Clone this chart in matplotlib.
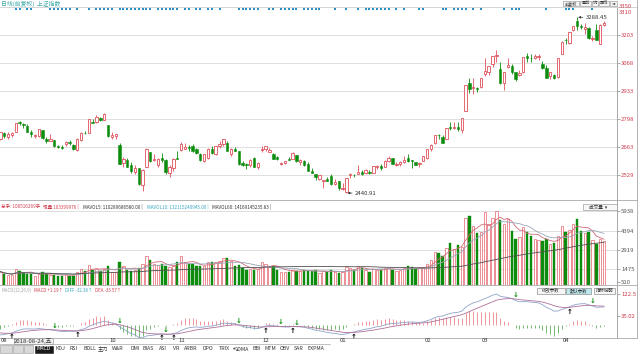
import numpy as np
import pandas as pd
import matplotlib
matplotlib.use('Agg')
import matplotlib.pyplot as plt

plt.rcParams['font.family'] = ['Noto Sans CJK SC', 'DejaVu Sans']

# ---------------- data ----------------
trading_days = {
    '2018-08': [21, 22, 23, 24, 27, 28, 29, 30, 31],
    '2018-09': [3, 4, 5, 6, 7, 10, 11, 12, 13, 14, 17, 18, 19, 20, 21, 25, 26, 27, 28],
    '2018-10': [8, 9, 10, 11, 12, 15, 16, 17, 18, 19, 22, 23, 24, 25, 26, 29, 30, 31],
    '2018-11': [1, 2, 5, 6, 7, 8, 9, 12, 13, 14, 15, 16, 19, 20, 21, 22, 23, 26, 27, 28, 29, 30],
    '2018-12': [3, 4, 5, 6, 7, 10, 11, 12, 13, 14, 17, 18, 19, 20, 21, 24, 25, 26, 27, 28],
    '2019-01': [2, 3, 4, 7, 8, 9, 10, 11, 14, 15, 16, 17, 18, 21, 22, 23, 24, 25, 28, 29, 30, 31],
    '2019-02': [1, 11, 12, 13, 14, 15, 18, 19, 20, 21, 22, 25, 26, 27, 28],
    '2019-03': [1, 4, 5, 6, 7, 8, 11, 12, 13, 14, 15, 18, 19, 20, 21, 22, 25, 26, 27, 28, 29],
    '2019-04': [1, 2, 3, 4, 8, 9, 10, 11, 12, 15, 16, 17],
}
month_tick_labels = ['08', '10', '11', '12', '01', '02', '03', '04']
month_tick_keys = ['2018-08', '2018-10', '2018-11', '2018-12', '2019-01', '2019-02', '2019-03', '2019-04']

opens = [2700, 2730, 2713, 2720, 2737, 2783, 2773, 2765, 2733,
         2716, 2717, 2746, 2703, 2694, 2695, 2667, 2665, 2676, 2688, 2674, 2649, 2696, 2732, 2731, 2782, 2783, 2803, 2793,
         2768, 2713, 2716, 2671, 2586, 2600, 2577, 2543, 2564, 2481, 2568, 2641, 2601, 2574, 2610, 2602, 2538, 2563,
         2608, 2649, 2654, 2664, 2670, 2651, 2631, 2596, 2612, 2654, 2628, 2668, 2677, 2684, 2627, 2652, 2642, 2584, 2581, 2576, 2611, 2568,
         2647, 2651, 2639, 2627, 2614, 2581, 2586, 2607, 2605, 2625, 2590, 2595, 2580, 2547, 2532, 2509, 2497, 2507, 2521, 2483,
         2497, 2461, 2446, 2529, 2530, 2535, 2544, 2540, 2544, 2536, 2569, 2571, 2565, 2597, 2609, 2576, 2583, 2591, 2608, 2598, 2591, 2580,
         2597, 2608, 2652, 2680, 2722, 2709, 2701, 2761, 2756, 2760, 2745, 2838, 2971, 2949, 2946,
         2954, 3015, 3026, 3062, 3103, 3038, 2972, 3049, 3052, 3025, 3010, 3025, 3101, 3091, 3093, 3096, 3065, 3042, 3004, 3012, 3002,
         3109, 3177, 3166, 3229, 3271, 3246, 3232, 3236, 3182, 3228, 3162, 3251]
highs = [2736, 2737, 2737, 2737, 2781, 2789, 2780, 2772, 2743,
         2726, 2752, 2747, 2713, 2725, 2698, 2675, 2673, 2692, 2695, 2676, 2706, 2737, 2738, 2798, 2799, 2818, 2807, 2827,
         2771, 2733, 2726, 2684, 2615, 2611, 2591, 2574, 2564, 2558, 2659, 2641, 2630, 2608, 2632, 2605, 2575, 2608,
         2645, 2686, 2680, 2673, 2679, 2657, 2634, 2631, 2656, 2667, 2670, 2690, 2704, 2690, 2656, 2661, 2643, 2594, 2586, 2603, 2616, 2589,
         2667, 2667, 2657, 2634, 2620, 2592, 2597, 2613, 2638, 2625, 2605, 2598, 2593, 2563, 2533, 2530, 2502, 2517, 2531, 2510,
         2500, 2488, 2515, 2536, 2532, 2574, 2552, 2556, 2550, 2573, 2575, 2583, 2598, 2618, 2609, 2590, 2596, 2618, 2630, 2602, 2593, 2590,
         2618, 2654, 2678, 2722, 2726, 2723, 2754, 2782, 2783, 2783, 2805, 2961, 2997, 2997, 2952,
         2998, 3090, 3055, 3103, 3129, 3075, 3027, 3091, 3061, 3027, 3036, 3096, 3117, 3111, 3111, 3111, 3079, 3058, 3026, 3016, 3093,
         3176, 3189, 3216, 3247, 3288.45, 3256, 3261, 3241, 3198, 3254, 3254, 3270]
lows = [2696, 2707, 2703, 2713, 2737, 2770, 2757, 2735, 2712,
        2706, 2712, 2702, 2683, 2690, 2664, 2658, 2654, 2670, 2674, 2649, 2644, 2691, 2724, 2731, 2777, 2780, 2788, 2791,
        2710, 2703, 2703, 2583, 2568, 2566, 2540, 2535, 2482, 2449, 2568, 2590, 2596, 2568, 2590, 2531, 2518, 2549,
        2603, 2643, 2652, 2646, 2640, 2630, 2594, 2591, 2605, 2627, 2626, 2657, 2668, 2642, 2620, 2642, 2576, 2572, 2558, 2567, 2567, 2558,
        2640, 2645, 2637, 2603, 2600, 2578, 2581, 2599, 2605, 2591, 2578, 2570, 2549, 2536, 2505, 2502, 2463, 2498, 2482, 2482,
        2456, 2455, 2440.91, 2515, 2520, 2534, 2527, 2533, 2531, 2536, 2558, 2554, 2565, 2592, 2579, 2570, 2572, 2588, 2593, 2562, 2575, 2567,
        2594, 2603, 2645, 2676, 2702, 2680, 2701, 2744, 2752, 2741, 2730, 2838, 2925, 2919, 2926,
        2946, 3006, 3008, 3050, 3075, 2969, 2936, 3043, 3013, 2981, 3004, 3021, 3071, 3073, 3085, 3083, 3037, 2995, 2993, 2990, 2996,
        3109, 3159, 3162, 3220, 3226, 3230, 3210, 3182, 3173, 3177, 3159, 3244]
closes = [2733.85, 2714.61, 2724.62, 2729.43, 2780.90, 2777.98, 2769.30, 2737.74, 2725.25,
          2720.73, 2749.93, 2704.34, 2691.59, 2702.30, 2669.48, 2664.80, 2656.11, 2686.58, 2681.64, 2651.79, 2699.95,
          2730.85, 2729.24, 2797.48, 2781.14, 2806.81, 2791.77, 2821.35,
          2716.51, 2721.01, 2725.84, 2583.46, 2606.91, 2568.10, 2546.33, 2561.61, 2486.42, 2550.47, 2654.88, 2594.83,
          2603.30, 2603.80, 2598.85, 2542.10, 2568.05, 2602.78,
          2606.24, 2676.48, 2665.43, 2659.36, 2641.34, 2635.63, 2598.87, 2630.52, 2654.88, 2632.24, 2668.17, 2679.11,
          2703.51, 2645.43, 2651.51, 2645.85, 2579.48, 2575.81, 2574.68, 2601.74, 2567.44, 2588.19,
          2654.80, 2665.96, 2649.81, 2605.18, 2605.89, 2584.58, 2594.09, 2602.15, 2634.05, 2593.74, 2597.97, 2576.65,
          2549.56, 2536.27, 2516.25, 2527.01, 2504.82, 2498.29, 2483.09, 2493.90,
          2465.29, 2464.36, 2514.87, 2533.09, 2526.46, 2544.34, 2535.10, 2553.83, 2535.77, 2570.34, 2570.42, 2559.64,
          2596.01, 2610.51, 2579.70, 2581.00, 2591.69, 2601.72, 2596.98, 2594.25, 2575.58, 2584.57,
          2618.23, 2653.90, 2671.89, 2721.07, 2719.70, 2682.39, 2754.36, 2755.65, 2761.22, 2751.80, 2804.23, 2961.28,
          2941.52, 2953.82, 2940.95,
          2994.01, 3027.58, 3054.25, 3102.10, 3106.42, 2969.86, 3026.99, 3060.31, 3026.95, 2990.69, 3021.75, 3096.42,
          3090.64, 3090.98, 3101.46, 3104.15, 3043.03, 2997.10, 3022.72, 2994.94, 3090.76,
          3170.36, 3176.82, 3216.30, 3246.57, 3244.81, 3239.66, 3241.93, 3189.96, 3188.63, 3177.79, 3253.60, 3263.12]
volumes = [1300, 1100, 1050, 1005, 1500, 1350, 1200, 1150, 1100,
           1000, 1150, 1250, 1100, 1050, 1050, 1000, 1000, 1150, 1000, 950, 1300, 1500, 1350, 1800, 1450, 1500, 1350, 1500,
           1700, 1300, 1250, 2000, 1700, 1400, 1350, 1400, 1600, 1850, 2500, 2200, 1900, 1800, 1900, 1700, 1650, 1700,
           2000, 2500, 2050, 1900, 1850, 1750, 1700, 1700, 2050, 2000, 2050, 2100, 2300, 2300, 2100, 1750, 1800, 1550, 1450, 1500, 1400, 1500,
           2000, 1900, 1650, 1700, 1400, 1300, 1300, 1300, 1450, 1350, 1350, 1400, 1350, 1350, 1400, 1200, 1350, 1250, 1400, 1300,
           1200, 1250, 1650, 1600, 1450, 1750, 1550, 1400, 1300, 1500, 1450, 1450, 1550, 1600, 1450, 1350, 1450, 1550, 1700, 1650, 1500, 1600,
           1600, 1900, 2200, 2800, 2700, 2450, 3100, 3500, 3000, 3300, 3200, 5400, 5500, 4800, 4200,
           4300, 5800, 4900, 5400, 5900, 5200, 4900, 5300, 4400, 3800, 3900, 4700, 4300, 4000, 3800, 3700, 3600, 3800, 3400, 3500, 4000,
           4800, 4300, 4500, 4900, 5300, 4400, 4200, 4300, 3700, 3400, 3800, 3600]
# days carrying an information marker (blue dot) in the top strip
marker_days = [4, 5, 7, 8, 13, 14, 15, 16, 17, 18, 20, 23, 25, 26, 27, 28, 29, 31, 32, 33, 34, 35, 36, 37, 38, 39,
               41, 42, 43, 44, 45, 46, 48, 49, 51, 52, 54, 55, 57, 62, 63, 64, 65, 66, 67, 70, 71, 73, 74, 75, 76, 77,
               79, 80, 81, 82, 83, 87, 90, 93, 95, 96, 97, 98, 99, 100, 101, 103, 105, 109, 110, 115, 116, 118, 119,
               120, 121, 123, 125, 131, 133, 134, 135, 142, 147, 148, 149, 154]
price_ticks = [3203, 3068, 2933, 2798, 2663, 2529]
price_top_labels = ['3350', '3310']
vol_ticks = [5938, 4394, 2919, 1475, 510]
macd_ticks = [122.5, 35.02]
# texts of the status rows (values at the cursor day, as printed)
vol_legend = [('总手: 100516269手', '#d03c4c'), ('现量 103399976 |', '#d03c4c'),
              ('MAVOL5: 110289686580.00 |', '#333333'), ('MAVOL10: 132115240945.00 |', '#3aa6c0'),
              ('MAVOL60: 14169145235.83 |', '#333333')]
macd_legend = [('MACD(12,26,9)', '#a8a8a8'), ('MACD +1.19↑', '#d03c4c'), ('DIFF -32.38↑', '#3aa6c0'),
               ('DEA -33.57↑', '#d03c4c')]
cursor_label = '2018-08-24,五'
# MACD state on the day before the first visible day
ema12_start, ema26_start, dea_start = 2727.0, 2771.0, -30.2
tabs = ['MACD', 'KDJ', 'RSI', 'BOLL', '主力', 'W&R', 'DMI', 'BIAS', 'ASI', 'VR', 'ARBR', 'DPO', 'TRIX',
        '均DMA', 'BBI', 'MTM', 'OBV', 'SAR', 'EXPMA']

# ---------------- derived ----------------
dates = [f'{k}-{d:02d}' for k, v in trading_days.items() for d in v]
n = len(closes)
idx = np.arange(n)
o = np.array(opens, float); h = np.array(highs, float); l = np.array(lows, float); c = np.array(closes, float)
v = np.array(volumes, float)
up = c >= o

vs = pd.Series(v)
mavol5 = vs.rolling(5, min_periods=1).mean()
mavol10 = vs.rolling(10, min_periods=1).mean()
mavol60 = vs.rolling(60, min_periods=1).mean()

e12, e26, dea = ema12_start, ema26_start, dea_start
diff_l, dea_l = [], []
for cc in c:
    e12 = e12 + 2 / 13 * (cc - e12)
    e26 = e26 + 2 / 27 * (cc - e26)
    d = e12 - e26
    dea = dea + 0.2 * (d - dea)
    diff_l.append(d); dea_l.append(dea)
diff = np.array(diff_l); dea_a = np.array(dea_l)
macd = 2 * (diff - dea_a)

# ---------------- figure ----------------
W, H = 640, 354
fig = plt.figure(figsize=(6.4, 3.54), dpi=100)
fig.patch.set_facecolor('white')
renderer = fig.canvas.get_renderer()

def rect(x0, y0, x1, y1):
    return [x0 / W, 1 - y1 / H, (x1 - x0) / W, (y1 - y0) / H]

XR = 617
x_left = -0.09
x_right = x_left + XR / 3.845
RED = '#e0505a'
UPC = '#e8707a'
GREEN = '#0c8c0c'
GRID = '#dedede'
LBL = '#d03c4c'
FS = 4.3

def style(ax):
    for s in ['top', 'left', 'bottom']:
        ax.spines[s].set_visible(False)
    ax.spines['right'].set_color('#9a9a9a')
    ax.spines['right'].set_linewidth(0.6)
    ax.set_xlim(x_left, x_right)
    ax.set_xticks([])
    ax.yaxis.tick_right()
    ax.tick_params(axis='y', length=2, width=0.5, pad=1, labelsize=FS, colors='#888888')
    ax.set_facecolor('white')

# main price panel
ax = fig.add_axes(rect(0, 7, XR, 200))
style(ax)
ymin, ymax = 2407.5, 3338
ax.set_ylim(ymin, ymax)
ax.set_yticks(price_ticks)
ax.set_yticklabels([str(t) for t in price_ticks])
for t in ax.get_yticklabels():
    t.set_color(LBL)
for t in price_ticks:
    ax.axhline(t, color=GRID, lw=0.7, zorder=0)
bw = 0.62
ax.vlines(idx[up], l[up], h[up], color=RED, lw=0.6, zorder=2)
ax.vlines(idx[~up], l[~up], h[~up], color=GREEN, lw=0.6, zorder=2)
body_lo = np.minimum(o, c)
body_h = np.maximum(np.abs(c - o), 1.2)
ax.bar(idx[up], body_h[up], bottom=body_lo[up], width=bw, facecolor='white', edgecolor=RED, lw=0.6, zorder=3)
ax.bar(idx[~up], body_h[~up], bottom=body_lo[~up], width=bw, facecolor=GREEN, edgecolor=GREEN, lw=0.4, zorder=3)
mk_y = ymax - 2.2 / 193 * (ymax - ymin)
ax.scatter(marker_days, [mk_y] * len(marker_days), s=2.4, color='#2b8ec4', marker='s', lw=0, zorder=4, clip_on=False)
imax = int(np.argmax(h)); imin = int(np.argmin(l))
for ii, val in [(imax, h[imax]), (imin, l[imin])]:
    ax.annotate(f'{val:.2f}', xy=(ii + 0.3, val), xytext=(ii + 2.2, val), fontsize=FS, color='#333333',
                va='center', ha='left', arrowprops=dict(arrowstyle='-|>', color='#333333', lw=0.5, mutation_scale=3,
                                                       shrinkA=0, shrinkB=0))

# volume panel
axv = fig.add_axes(rect(0, 200, XR, 285))
style(axv)
axv.set_ylim(510 - 3 * 76, 510 + 82 * 76)
axv.set_yticks(vol_ticks)
axv.set_yticklabels([str(t) for t in vol_ticks])
for t in axv.get_yticklabels():
    t.set_color('#555555')
for t in vol_ticks[:-1]:
    axv.axhline(t, color=GRID, lw=0.7, zorder=0)
axv.bar(idx[up], v[up], width=bw, facecolor='white', edgecolor=UPC, lw=0.55, zorder=2)
axv.bar(idx[~up], v[~up], width=bw, facecolor=GREEN, edgecolor=GREEN, lw=0.3, zorder=2)
axv.plot(idx, mavol5, color='#d06a78', lw=0.6, zorder=3)
axv.plot(idx, mavol10, color='#9aa6b8', lw=0.6, zorder=3)
axv.plot(idx, mavol60, color='#505050', lw=0.6, zorder=3)

# MACD panel
axm = fig.add_axes(rect(0, 285, XR, 338))
style(axm)
z0 = 324.8
unit = 3.98
axm.set_ylim(-(338 - z0) * unit, (z0 - 285) * unit)
axm.set_yticks(macd_ticks)
axm.set_yticklabels([str(t) for t in macd_ticks])
for t in axm.get_yticklabels():
    t.set_color(LBL)
pos = macd >= 0
axm.vlines(idx[pos], 0, macd[pos], color='#e87a80', lw=0.55)
axm.vlines(idx[~pos], 0, macd[~pos], color='#4aa84a', lw=0.55)
axm.plot(idx, diff, color='#8fa4c8', lw=0.6)
axm.plot(idx, dea_a, color='#b0709c', lw=0.6)
sgn = np.sign(diff - dea_a)
for i in range(1, n):
    if sgn[i] > 0 and sgn[i - 1] <= 0:
        axm.text(i, min(diff[i], dea_a[i]) - 5, '↑', color='black', fontsize=5, ha='center', va='top',
                 family='DejaVu Sans', fontweight='bold')
    elif sgn[i] < 0 and sgn[i - 1] >= 0:
        axm.text(i, max(diff[i], dea_a[i]) + 4, '↓', color=GREEN, fontsize=5, ha='center', va='bottom',
                 family='DejaVu Sans', fontweight='bold')

# ---------------- chrome ----------------
def fx(px): return px / W
def fy(py): return 1 - py / H

def hline(py, x0=0, x1=637, color='#a8a8a8', lw=0.6):
    fig.add_artist(plt.Line2D([fx(x0), fx(x1)], [fy(py), fy(py)], color=color, lw=lw))

def text_row(items, starts, py, fs):
    prev_end = -1e9
    for (s, col), px in zip(items, starts):
        x0 = max(px, prev_end + 2.5)
        t = fig.text(fx(x0), fy(py), s, fontsize=fs, color=col, va='center', ha='left')
        bb = t.get_window_extent(renderer)
        prev_end = bb.x1

hline(7, color='#cfcfcf')
hline(200)
hline(285)
hline(338)
hline(344, 0, 330, color='#a8a8a8', lw=0.5)
fig.add_artist(plt.Line2D([fx(637), fx(637)], [fy(0), fy(338)], color='#a8a8a8', lw=0.6))

fig.text(fx(1), fy(3.5), '日线(前复权)  上证指数', fontsize=4.2, color='#3aa6a6', va='center', ha='left')
for x0, x1, s in [(563, 579, '前复权'), (580, 591, '叠加'), (592, 598, '统'), (599, 609, '画线'), (610, 617, '◄')]:
    fig.add_artist(plt.Rectangle((fx(x0), fy(6)), fx(x1 - x0), 5.5 / H, facecolor='#f4f4f4', edgecolor='#8a8a8a', lw=0.4))
    fig.text(fx((x0 + x1) / 2), fy(3.2), s, fontsize=3.0, ha='center', va='center', color='#333333')
for s, py in zip(price_top_labels, [7, 12.5]):
    fig.text(fx(619), fy(py), s, fontsize=FS, color=LBL, va='center', ha='left')

# volume legend row
text_row(vol_legend, [1, 43, 83, 147, 212], 207, 3.3)
fig.add_artist(plt.Rectangle((fx(583), fy(209.5)), fx(34), 5.5 / H, facecolor='#f8f8f8', edgecolor='#8a8a8a', lw=0.4))
fig.text(fx(598), fy(206.8), '成交量  ▾', fontsize=3.3, ha='center', va='center', color='#333333')

# MACD legend row
text_row(macd_legend, [1, 32, 54, 80], 290, 3.2)
for x0, x1, s, fc in [(537, 565, '修改参数', '#f6f6f6'), (566, 591, '默认参数', '#bfe8ee'), (594, 615, '指标说明', '#f6f6f6')]:
    fig.add_artist(plt.Rectangle((fx(x0), fy(293.5)), fx(x1 - x0), 6 / H, facecolor=fc, edgecolor='#7a7a7a', lw=0.4))
    fig.text(fx((x0 + x1) / 2), fy(290.5), s, fontsize=3.2, ha='center', va='center', color='#333333')

# date axis
month_idx = [dates.index(next(d for d in dates if d.startswith(k))) for k in month_tick_keys]
xscale = XR / (x_right - x_left)
for lab, i in zip(month_tick_labels, month_idx):
    px = (i - x_left) * xscale
    if i == 0:
        px = -0.5
    fig.text(fx(px + 1), fy(341), lab, fontsize=FS, color='#333333', va='center', ha='left')
cpx = (3 - x_left) * xscale
fig.text(fx(cpx + 2), fy(341), cursor_label, fontsize=FS, color='#333333', va='center', ha='left',
         bbox=dict(boxstyle='square,pad=0.05', facecolor='#f0f0f0', edgecolor='#888888', lw=0.4))

# tab row
for x0, x1 in [(0, 12), (13, 23), (24, 33)]:
    fig.add_artist(plt.Rectangle((fx(x0), fy(353)), fx(x1 - x0), 8 / H, facecolor='#d8d8d8', edgecolor='#9a9a9a', lw=0.4))
tab_centers = [44, 60, 74, 90, 103, 118, 135, 148, 163, 176, 191, 208, 224, 241, 257, 270, 285, 299, 316]
for k, (s, cx) in enumerate(zip(tabs, tab_centers)):
    if k == 0:
        fig.add_artist(plt.Rectangle((fx(35), fy(352.5)), fx(18), 7 / H, facecolor='#1a1a1a', edgecolor='#1a1a1a', lw=0.4))
        fig.text(fx(cx), fy(349), s, fontsize=3.8, color='white', ha='center', va='center')
    else:
        fig.text(fx(cx), fy(349), s, fontsize=3.8, color='#333333', ha='center', va='center')

fig.savefig('out.png', dpi=100, facecolor='white')
